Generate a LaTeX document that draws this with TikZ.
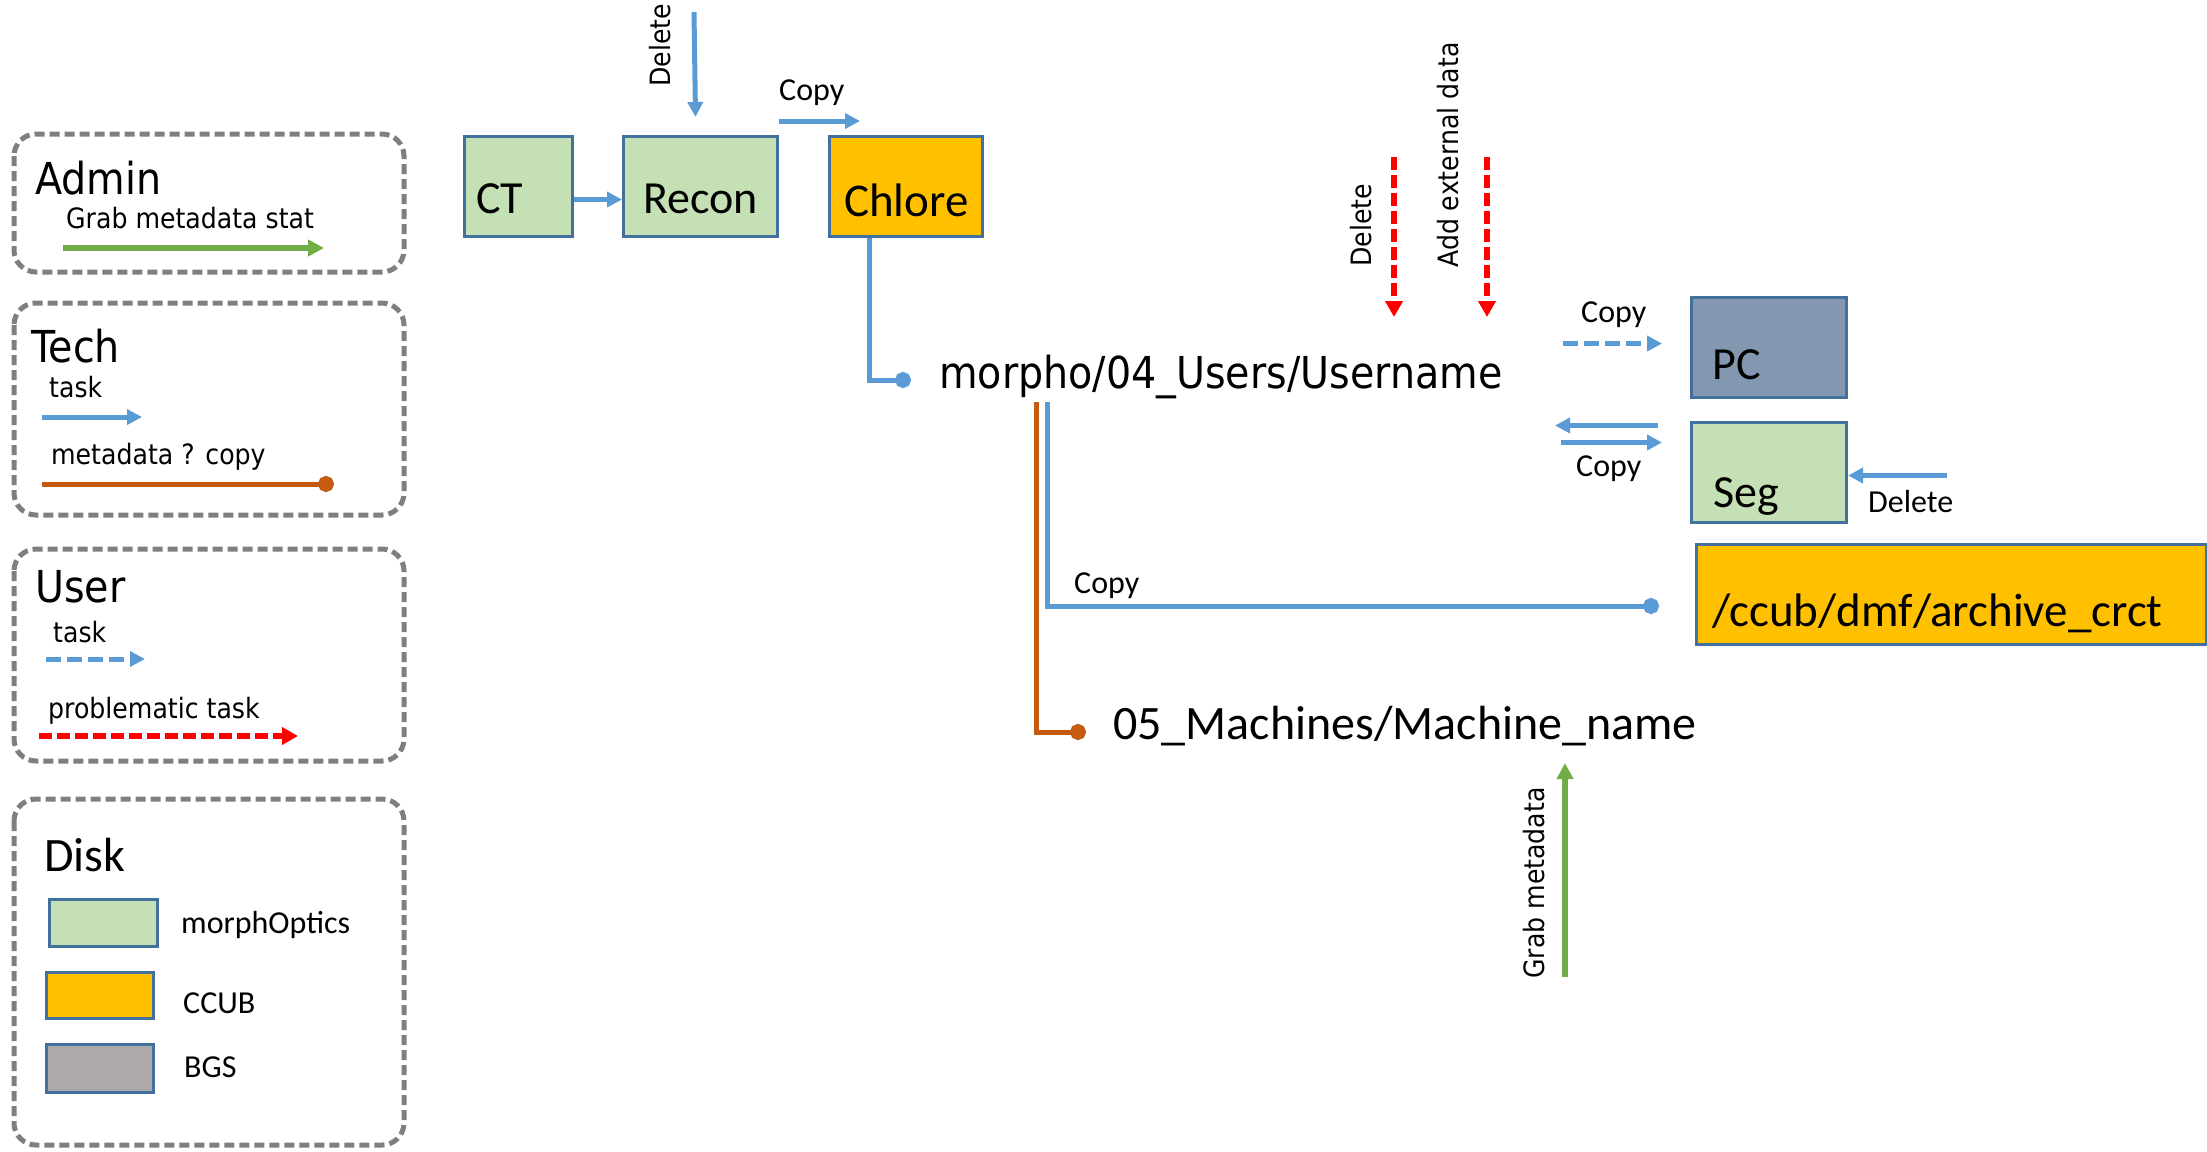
\documentclass[tikz,border=0pt]{standalone}
\usepackage{fontspec}
\setmainfont{Carlito}
\newfontfamily\tahfont[FakeStretch=0.9]{DejaVu Sans}
\usetikzlibrary{arrows.meta}

\definecolor{taskblue}{HTML}{5B9BD5}
\definecolor{grabgreen}{HTML}{70AD47}
\definecolor{metabrown}{HTML}{C55A11}
\definecolor{legendgray}{HTML}{7F7F7F}
\definecolor{optgreen}{HTML}{C5E0B4}
\definecolor{ccuborange}{HTML}{FFC000}
\definecolor{pcblue}{HTML}{8497B0}
\definecolor{bgsgray}{HTML}{AEAAAA}
\definecolor{boxedge}{HTML}{41719C}

\newcommand{\setpx}[1]{\fontsize{#1pt}{#1pt}\selectfont}

\begin{document}
\begin{tikzpicture}[x=1pt, y=-1pt,
    disk/.style={draw=boxedge, line width=3pt, anchor=north west, inner sep=0pt},
    lbl/.style={anchor=base west, inner sep=0pt},
    vlbl/.style={anchor=west, rotate=90, inner sep=0pt, font={\tahfont\setpx{28}}},
    task/.style={draw=taskblue, line width=5pt, -{Triangle[length=15pt, width=15pt]}},
    usertask/.style={task, dash pattern=on 15pt off 6pt},
    badtask/.style={draw=red, line width=6pt, dash pattern=on 13pt off 5pt, -{Triangle[length=16pt, width=17pt]}},
    grab/.style={draw=grabgreen, line width=6pt, -{Triangle[length=16pt, width=16pt]}},
    link/.style={draw=taskblue, line width=5pt, -{Circle[length=16pt]}},
    meta/.style={draw=metabrown, line width=5pt, -{Circle[length=16pt]}}]
  \useasboundingbox (0,0) rectangle (2207,1151);
  \newcommand{\legendpanel}[2]
  {%
    \draw[legendgray, line width=5pt, dash pattern=on 10pt off 5pt, rounded corners=22pt] #1 rectangle #2;%
  }%
  % legend
  \legendpanel{(14,134)}{(404,272)}
  \legendpanel{(14,303)}{(404,515)}
  \legendpanel{(14,549)}{(404,761)}
  \legendpanel{(14,799)}{(404,1145)}
  \node[lbl, font={\tahfont\setpx{44}}] (admin) at (35,194) {Admin};
  \node[lbl, font={\tahfont\setpx{28}}] (admintask) at (66,228) {Grab metadata stat};
  \coordinate (a1) at (63,248);
  \coordinate (a2) at (324,248);
  \draw[grab] (a1) -- (a2);
  \node[lbl, font={\tahfont\setpx{44}}] (tech) at (31,362) {Tech};
  \node[lbl, font={\tahfont\setpx{28}}] (techtask) at (49,397) {task};
  \coordinate (t1) at (42,417);
  \coordinate (t2) at (142,417);
  \draw[task] (t1) -- (t2);
  \node[lbl, font={\tahfont\setpx{28}}] (techmeta) at (51,464) {metadata ? copy};
  \coordinate (m1) at (42,484);
  \coordinate (m2) at (334,484);
  \draw[meta] (m1) -- (m2);
  \node[lbl, font={\tahfont\setpx{44}}] (user) at (35,602) {User};
  \node[lbl, font={\tahfont\setpx{28}}] (usertask) at (53,642) {task};
  \coordinate (u1) at (46,659);
  \coordinate (u2) at (145,659);
  \draw[usertask] (u1) -- (u2);
  \node[lbl, font={\tahfont\setpx{28}}] (userbad) at (48,718) {problematic task};
  \coordinate (p1) at (39,736);
  \coordinate (p2) at (298,736);
  \draw[badtask] (p1) -- (p2);
  \node[lbl, font=\setpx{48}] (disk) at (44,871) {Disk};
  \node[disk, fill=optgreen, minimum width=108pt, minimum height=47pt] (keyopt) at (48,898) {};
  \node[disk, fill=ccuborange, minimum width=107pt, minimum height=46pt] (keyccub) at (45,971) {};
  \node[disk, fill=bgsgray, minimum width=107pt, minimum height=48pt] (keybgs) at (45,1043) {};
  \node[lbl, font=\setpx{32}] (keyoptlbl) at (181,933) {morphOptics};
  \node[lbl, font=\setpx{32}] (keyccublbl) at (183,1013) {CCUB};
  \node[lbl, font=\setpx{32}] (keybgslbl) at (184,1077) {BGS};
  % disks
  \node[disk, fill=optgreen, minimum width=108pt, minimum height=100pt] (ct) at (463,135) {};
  \node[disk, fill=optgreen, minimum width=154pt, minimum height=100pt] (recon) at (622,135) {};
  \node[disk, fill=ccuborange, minimum width=153pt, minimum height=100pt] (chlore) at (828,135) {};
  \node[disk, fill=pcblue, minimum width=155pt, minimum height=100pt] (pc) at (1690,296) {};
  \node[disk, fill=optgreen, minimum width=155pt, minimum height=100pt] (seg) at (1690,421) {};
  \node[disk, fill=ccuborange, minimum width=510pt, minimum height=100pt] (archive) at (1695,543) {};
  \node[lbl, font=\setpx{46}] (ctlbl) at (476,213) {CT};
  \node[lbl, font=\setpx{46}] (reconlbl) at (643,213) {Recon};
  \node[lbl, font=\setpx{47}] (chlorelbl) at (844,216) {Chlore};
  \node[lbl, font=\setpx{46}] (pclbl) at (1712,379) {PC};
  \node[lbl, font=\setpx{46}] (seglbl) at (1713,507) {Seg};
  \node[lbl, font=\setpx{47}] (archivelbl) at (1712,626) {/ccub/dmf/archive\_crct};
  \node[lbl, font={\tahfont\setpx{44}}] (users) at (939,388) {morpho/04\_Users/Username};
  \node[lbl, font=\setpx{48}] (machines) at (1113,739) {05\_Machines/Machine\_name};
  % tasks
  \draw[task] ([yshift=-13pt]ct.east) -- ([yshift=-13pt]recon.west);
  \coordinate (recdel) at (694,12);
  \draw[task] (recdel) -- ([xshift=-5pt, yshift=18pt]recon.north);
  \node[vlbl] (recdellbl) at (660,87) {Delete};
  \draw[task] ([yshift=14pt]recon.north east) -- ([xshift=32pt, yshift=14pt]chlore.north west);
  \node[lbl, font=\setpx{32}] (copychlore) at (779,100) {Copy};
  \coordinate (userdot) at (911,380);
  \draw[link] ([xshift=-37pt]chlore.south) |- (userdot);
  \coordinate (archdot) at (1659,606);
  \draw[link] ([xshift=108pt, yshift=-3pt]users.south west) |- (archdot);
  \node[lbl, font=\setpx{32}] (copyarch) at (1074,593) {Copy};
  \coordinate (machdot) at (1086,732);
  \draw[meta] ([xshift=97pt, yshift=-3pt]users.south west) |- (machdot);
  % user tasks
  \coordinate (deltop) at (1394,157);
  \coordinate (delend) at (1394,317);
  \draw[badtask] (deltop) -- (delend);
  \node[vlbl] (userdel) at (1361,267) {Delete};
  \coordinate (addtop) at (1487,157);
  \coordinate (addend) at (1487,317);
  \draw[badtask] (addtop) -- (addend);
  \node[vlbl] (useradd) at (1448,268) {Add external data};
  \draw[usertask] ([xshift=-127pt, yshift=4pt]pc.west) -- ([xshift=-28pt, yshift=4pt]pc.west);
  \node[lbl, font=\setpx{32}] (copypc) at (1581,322) {Copy};
  \draw[task] ([xshift=-32pt, yshift=47pt]seg.west) -- ([xshift=-135pt, yshift=47pt]seg.west);
  \draw[task] ([xshift=-129pt, yshift=30pt]seg.west) -- ([xshift=-28pt, yshift=30pt]seg.west);
  \node[lbl, font=\setpx{32}] (copyseg) at (1576,476) {Copy};
  \draw[task] ([xshift=99pt, yshift=-3pt]seg.east) -- ([yshift=-3pt]seg.east);
  \node[lbl, font=\setpx{32}] (segdel) at (1868,512) {Delete};
  % admin
  \coordinate (grabfoot) at (1565,977);
  \coordinate (grabtip) at (1565,763);
  \draw[grab] (grabfoot) -- (grabtip);
  \node[vlbl] (grabmeta) at (1534,979) {Grab metadata};
\end{tikzpicture}
\end{document}
